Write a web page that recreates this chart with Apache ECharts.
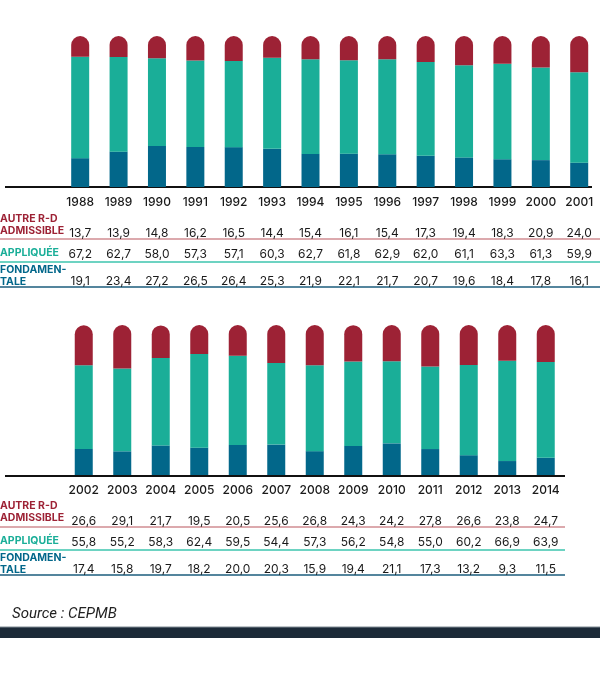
<!DOCTYPE html>
<html><head><meta charset="utf-8">
<script src="https://cdn.jsdelivr.net/npm/echarts@6/dist/echarts.min.js"></script>
<style>html,body{margin:0;padding:0;background:#fff}#c{width:600px;height:679px}</style>
</head><body><div id="c"></div>
<script>
var years1 = ['1988','1989','1990','1991','1992','1993','1994','1995','1996','1997','1998','1999','2000','2001'];
var autre1 = [13.7,13.9,14.8,16.2,16.5,14.4,15.4,16.1,15.4,17.3,19.4,18.3,20.9,24.0];
var appl1  = [67.2,62.7,58.0,57.3,57.1,60.3,62.7,61.8,62.9,62.0,61.1,63.3,61.3,59.9];
var fond1  = [19.1,23.4,27.2,26.5,26.4,25.3,21.9,22.1,21.7,20.7,19.6,18.4,17.8,16.1];
var years2 = ['2002','2003','2004','2005','2006','2007','2008','2009','2010','2011','2012','2013','2014'];
var autre2 = [26.6,29.1,21.7,19.5,20.5,25.6,26.8,24.3,24.2,27.8,26.6,23.8,24.7];
var appl2  = [55.8,55.2,58.3,62.4,59.5,54.4,57.3,56.2,54.8,55.0,60.2,66.9,63.9];
var fond2  = [17.4,15.8,19.7,18.2,20.0,20.3,15.9,19.4,21.1,17.3,13.2,9.3,11.5];
var rowNames = ['AUTRE R-D\nADMISSIBLE','APPLIQUÉE','FONDAMEN-\nTALE'];
var sourceText = 'Source : CEPMB';

var RED='#9d2235', TEAL='#1aae98', BLUE='#02678a';
var FONT='Inter';
function fmt(v){return v.toFixed(1).replace('.',',');}

var grids=[
  {left:61, right:1.6, top:36, height:151},
  {left:64.5, right:35, top:325, height:150}
];
var sets=[[years1,autre1,appl1,fond1],[years2,autre2,appl2,fond2]];
var xAxes=[], yAxes=[], series=[];
sets.forEach(function(s,g){
  var yrs=s[0];
  xAxes.push({type:'category',gridIndex:g,data:yrs,axisLine:{show:false},axisTick:{show:false},
    axisLabel:{interval:0,hideOverlap:false,margin:9,fontSize:12,color:'#1a1a1a',fontFamily:FONT,fontWeight:500}});
  var rows=[[s[1],31],[s[2],52],[s[3],79]];
  rows.forEach(function(r){
    var arr=r[0];
    xAxes.push({type:'category',gridIndex:g,position:'bottom',offset:r[1],data:yrs,axisLine:{show:false},axisTick:{show:false},
      axisLabel:{interval:0,hideOverlap:false,margin:9,fontSize:12,color:'#1a1a1a',fontFamily:FONT,formatter:function(v,i){return fmt(arr[i]);}}});
  });
  yAxes.push({type:'value',gridIndex:g,min:0,max:100,show:false,splitLine:{show:false}});
  var xi=g*4;
  series.push({type:'bar',name:'Fondamentale',stack:'s'+g,xAxisIndex:xi,yAxisIndex:g,barWidth:18,data:s[3],itemStyle:{color:BLUE}});
  series.push({type:'bar',name:'Appliquée',stack:'s'+g,xAxisIndex:xi,yAxisIndex:g,barWidth:18,data:s[2],itemStyle:{color:TEAL}});
  series.push({type:'bar',name:'Autre',stack:'s'+g,xAxisIndex:xi,yAxisIndex:g,barWidth:18,data:s[1],itemStyle:{color:RED,borderRadius:[9,9,0,0]}});
});

var graphics=[];
function line(x1,y,x2,color,w){graphics.push({type:'line',shape:{x1:x1,y1:y,x2:x2,y2:y},style:{stroke:color,lineWidth:w}});}
function label(txt,x,y,color){graphics.push({type:'text',x:x,y:y,style:{text:txt,fill:color,font:'bold 10.5px '+FONT,lineHeight:12,textVerticalAlign:'top'}});}
// panel 1
line(5,187,592,'#111',2);
line(0,239,600,'#d08c92',1.5);
line(0,262,600,'#3dc5ae',1.5);
line(0,287,600,'#1b5c7c',1.5);
label(rowNames[0],0,213,RED);
label(rowNames[1],0,247,TEAL);
label(rowNames[2],0,264,BLUE);
// panel 2
line(5,476,565,'#111',2);
line(0,527,565,'#d08c92',1.5);
line(0,550,565,'#3dc5ae',1.5);
line(0,575,565,'#1b5c7c',1.5);
label(rowNames[0],0,500,RED);
label(rowNames[1],0,535,TEAL);
label(rowNames[2],0,552,BLUE);
// source
graphics.push({type:'text',x:12,y:607,style:{text:sourceText,fill:'#222',font:'italic 15px Roboto',textVerticalAlign:'top'}});
graphics.push({type:'rect',shape:{x:0,y:627,width:600,height:11},style:{fill:'#1c2a38'}});
line(0,627,600,'#7f8a93',1);

var chart=echarts.init(document.getElementById('c'),null,{renderer:'canvas'});
chart.setOption({animation:false,grid:grids,xAxis:xAxes,yAxis:yAxes,series:series,graphic:graphics});
</script></body></html>
